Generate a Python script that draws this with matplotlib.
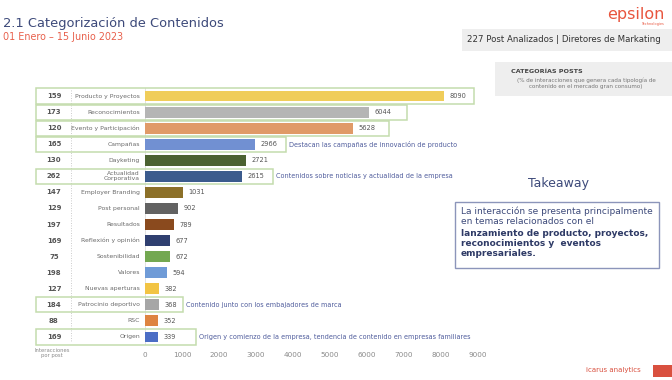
import matplotlib.pyplot as plt
from matplotlib.patches import Rectangle

# --------------------------
# Data
# --------------------------
categories = ["Producto y Proyectos", "Reconocimientos", "Evento y Participación", "Campañas",
              "Dayketing", "Actualidad\nCorporativa", "Employer Branding", "Post personal",
              "Resultados", "Reflexión y opinión", "Sostenibilidad", "Valores",
              "Nuevas aperturas", "Patrocinio deportivo", "RSC", "Origen"]
interactions = [8090, 6044, 5628, 2966, 2721, 2615, 1031, 902, 789, 677, 672, 594, 382, 368, 352, 339]
per_post = [159, 173, 120, 165, 130, 262, 147, 129, 197, 169, 75, 198, 127, 184, 88, 169]
colors = ["#F0CD5A", "#B5B5B5", "#E09A68", "#7190D2", "#4B6231", "#3B5B8D", "#8C7028", "#626262",
          "#8A4A1E", "#2F3F70", "#73A851", "#6F9BD7", "#F2C444", "#A6A6A6", "#DE8441", "#4B6DC5"]
highlighted = [0, 1, 2, 3, 5, 13, 15]
box_pad = [800, 1050, 970, 850, 850, 650, 1050]
notes = {3: "Destacan las campañas de innovación de producto",
         5: "Contenidos sobre noticias y actualidad de la empresa",
         13: "Contenido junto con los embajadores de marca",
         15: "Origen y comienzo de la empresa, tendencia de contenido en empresas familiares"}
xticks = [0, 1000, 2000, 3000, 4000, 5000, 6000, 7000, 8000, 9000]

W, H = 672, 380
NAVY = "#3D4A7A"
NOTE = "#4F5C9C"

fig = plt.figure(figsize=(W / 100, H / 100), dpi=100)
fig.patch.set_facecolor("white")

def fx(px):
    return px / W

def fy(py):
    return 1 - py / H

# main bar axes: x 145..478 px, y 88..345 px
ax = fig.add_axes([fx(145), fy(345), fx(478) - fx(145), (345 - 88) / H])
ypos = list(range(len(categories)))
ax.barh(ypos, interactions, height=0.68, color=colors, zorder=3)
ax.set_xlim(0, 9000)
ax.set_ylim(len(categories) - 0.5, -0.5)
ax.set_xticks(xticks)
ax.set_xticklabels([str(t) for t in xticks], fontsize=5.2, color="#8A8A8A")
ax.tick_params(axis="x", length=0, pad=5)
ax.set_yticks([])
for s in ax.spines.values():
    s.set_visible(False)
ax.axvline(0, color="#DDDDDD", lw=0.6, zorder=1)

px_per_unit = 333 / 9000
left_data = (36 - 145) / px_per_unit

for i, (v, n) in enumerate(zip(interactions, per_post)):
    ax.text(v + 150, i, str(v), va="center", ha="left", fontsize=4.8, color="#555555")
    ax.text(-135, i, categories[i], va="center", ha="right", fontsize=4.4,
            color="#6A6A6A", linespacing=0.95, clip_on=False)
    ax.text((54 - 145) / px_per_unit, i, str(n), va="center", ha="center", fontsize=5,
            fontweight="bold", color="#555555", clip_on=False)

# dotted separator
ax.plot([(71 - 145) / px_per_unit] * 2, [-0.4, 15.3], ls=(0, (1, 2)), color="#BBBBBB",
        lw=0.6, clip_on=False)

# highlighted rows
for i, pad in zip(highlighted, box_pad):
    right = interactions[i] + pad
    ax.add_patch(Rectangle((left_data, i - 0.47), right - left_data, 0.94, fill=False,
                           edgecolor="#C4DCAD", lw=1.1, clip_on=False, zorder=4))
    if i in notes:
        ax.text(right + 80, i, notes[i], va="center", ha="left", fontsize=4.7,
                color=NOTE, clip_on=False)

fig.text(fx(52), fy(353), "Interacciones\npor post", ha="center", va="center",
         fontsize=3.8, color="#8A8A8A", linespacing=1.1)

# titles
fig.text(fx(3), fy(23), "2.1 Categorización de Contenidos", fontsize=9.4, color=NAVY,
         va="center", ha="left")
fig.text(fx(3), fy(37), "01 Enero – 15 Junio 2023", fontsize=6.9, color="#E8604C",
         va="center", ha="left")

# logo
fig.text(fx(665), fy(14), "epsilon", fontsize=11.5, color="#E8553E", ha="right", va="center")
fig.text(fx(664), fy(24), "Technologies", fontsize=2.5, color="#E8553E", ha="right", va="center")

# header boxes
fig.add_artist(Rectangle((fx(462), fy(51)), fx(672) - fx(462), 22 / H, transform=fig.transFigure,
                         facecolor="#EEEEEE", edgecolor="none"))
fig.text(fx(467), fy(40), "227 Post Analizados | Diretores de Markating", fontsize=6.2,
         color="#333333", va="center", ha="left")
fig.add_artist(Rectangle((fx(495), fy(96)), fx(672) - fx(495), 34 / H, transform=fig.transFigure,
                         facecolor="#EEEEEE", edgecolor="none"))
fig.text(fx(511), fy(71), "CATEGORÍAS POSTS", fontsize=4.6, fontweight="bold",
         color="#444444", va="center", ha="left")
fig.text(fx(586), fy(83), "(% de interacciones que genera cada tipología de\ncontenido en el mercado gran consumo)",
         fontsize=4.1, color="#777777", va="center", ha="center", linespacing=1.2)

# takeaway
fig.text(fx(559), fy(184), "Takeaway", fontsize=9, color=NAVY, ha="center", va="center")
fig.add_artist(Rectangle((fx(455), fy(268)), fx(659) - fx(455), 66 / H, transform=fig.transFigure,
                         facecolor="white", edgecolor="#8C95BA", lw=1))
fig.text(fx(461), fy(206), "La interacción se presenta principalmente\nen temas relacionados con el",
         fontsize=6.5, color=NAVY, va="top", ha="left", linespacing=1.15)
fig.text(fx(461), fy(229), "lanzamiento de producto, proyectos,\nreconocimientos y  eventos\nempresariales.",
         fontsize=6.5, color="#2E3A66", fontweight="bold", va="top", ha="left", linespacing=1.15)

# footer logo
fig.text(fx(641), fy(370), "icarus analytics", fontsize=5, color="#D9503F", ha="right", va="center")
fig.add_artist(Rectangle((fx(653), fy(377)), fx(672) - fx(653), 12 / H, transform=fig.transFigure,
                         facecolor="#D9503F", edgecolor="none"))

fig.savefig("out.png", dpi=100)
